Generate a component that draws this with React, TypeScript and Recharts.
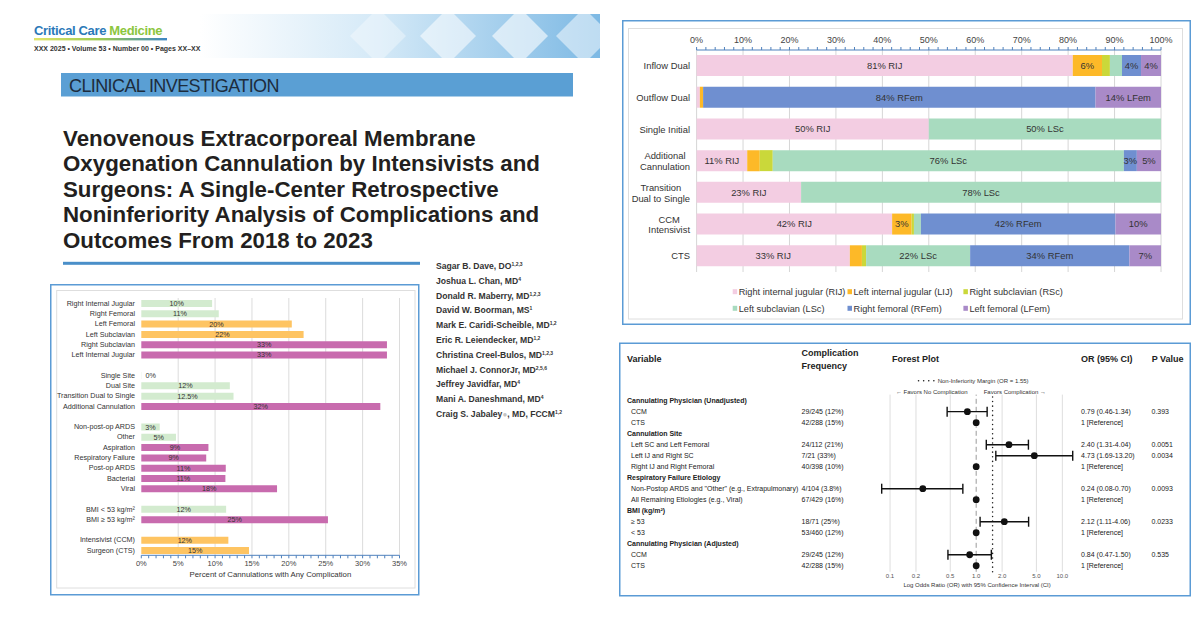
import React from "react";
import {
  BarChart,
  Bar,
  XAxis,
  YAxis,
  CartesianGrid,
  Cell,
  LabelList,
  ScatterChart,
  Scatter,
  ErrorBar,
  ReferenceLine,
} from "recharts";

const FONT = '"Liberation Sans", Arial, Helvetica, sans-serif';
const BORDER = "#5b9bd5";

// header text
const titleLines = [
  "Venovenous Extracorporeal Membrane",
  "Oxygenation Cannulation by Intensivists and",
  "Surgeons: A Single-Center Retrospective",
  "Noninferiority Analysis of Complications and",
  "Outcomes From 2018 to 2023",
];
const authorNames = [
  "Sagar B. Dave, DO",
  "Joshua L. Chan, MD",
  "Donald R. Maberry, MD",
  "David W. Boorman, MS",
  "Mark E. Caridi-Scheible, MD",
  "Eric R. Leiendecker, MD",
  "Christina Creel-Bulos, MD",
  "Michael J. ConnorJr,  MD",
  "Jeffrey Javidfar, MD",
  "Mani A. Daneshmand, MD",
  "Craig S. Jabaley",
];
const authorSup = ["1,2,3", "4", "1,2,3", "1", "1,2", "1,2", "1,2,3", "2,5,6", "4", "4", "1,2"];

// left panel: percent of cannulations with any complication
const riskLabels = [
  "Right Internal Jugular", "Right Femoral", "Left Femoral", "Left Subclavian", "Right Subclavian", "Left Internal Jugular",
  "",
  "Single Site", "Dual Site", "Transition Dual to Single", "Additional Cannulation",
  "",
  "Non-post-op ARDS", "Other", "Aspiration", "Respiratory Failure", "Post-op ARDS", "Bacterial", "Viral",
  "",
  "BMI < 53 kg/m²", "BMI ≥ 53 kg/m²",
  "",
  "Intensivist (CCM)", "Surgeon (CTS)",
];
const riskValues = [
  9.6, 10.5, 20.4, 22.0, 33.3, 33.3,
  null,
  0, 12.0, 12.5, 32.4,
  null,
  2.5, 4.7, 9.1, 8.8, 11.45, 11.4, 18.4,
  null,
  11.5, 25.3,
  null,
  11.8, 14.6,
];
const riskText = [
  "10%", "11%", "20%", "22%", "33%", "33%",
  "",
  "0%", "12%", "12.5%", "32%",
  "",
  "3%", "5%", "9%", "9%", "11%", "11%", "18%",
  "",
  "12%", "25%",
  "",
  "12%", "15%",
];
const riskTier = [0, 0, 1, 1, 2, 2, -1, 0, 0, 0, 2, -1, 0, 0, 2, 2, 2, 2, 2, -1, 0, 2, -1, 1, 1];
const tierColors = ["#d3ebcf", "#fec462", "#c86bae"];
const riskTicks = Array.from({ length: 36 }, (_, i) => i);
const riskGrid = [5, 10, 15, 20, 25, 30, 35];

// top right: cannulation site distribution
const siteRows = [
  "Inflow Dual",
  "Outflow Dual",
  "Single Initial",
  "Additional\nCannulation",
  "Transition\nDual to Single",
  "CCM\nIntensivist",
  "CTS",
];
const rijPct = [81.0, 0.7, 50, 10.9, 22.5, 42.1, 33.0];
const lijPct = [6.3, 0.7, 0, 2.7, 0, 4.2, 2.6];
const rscPct = [1.7, 0, 0, 2.8, 0, 0.5, 0.9];
const lscPct = [2.6, 0, 50, 75.6, 77.5, 1.5, 22.4];
const rfemPct = [4.1, 84.5, 0, 2.8, 0, 41.9, 34.3];
const lfemPct = [4.3, 14.1, 0, 5.2, 0, 9.8, 6.8];
const rijText = ["81% RIJ", "", "50% RIJ", "11% RIJ", "23% RIJ", "42% RIJ", "33% RIJ"];
const lijText = ["6%", "", "", "", "", "3%", ""];
const rscText = ["", "", "", "", "", "", ""];
const lscText = ["", "", "50% LSc", "76% LSc", "78% LSc", "", "22% LSc"];
const rfemText = ["4%", "84% RFem", "", "3%", "", "42% RFem", "34% RFem"];
const lfemText = ["4%", "14% LFem", "", "5%", "", "10%", "7%"];
const siteKeys = ["rij", "lij", "rsc", "lsc", "rfem", "lfem"];
const siteNames = [
  "Right internal jugular (RIJ)",
  "Left internal jugular (LIJ)",
  "Right subclavian (RSc)",
  "Left subclavian (LSc)",
  "Right femoral (RFem)",
  "Left femoral (LFem)",
];
const siteColors = ["#f3cde2", "#fdb928", "#cad83a", "#a8dbbf", "#6f8fd0", "#a98ac8"];
const siteTexts = [rijText, lijText, rscText, lscText, rfemText, lfemText];
const siteTicks = Array.from({ length: 51 }, (_, i) => i * 2);
const siteGrid = [0, 10, 20, 30, 40, 50, 60, 70, 80, 90, 100];

// bottom right: forest plot
const forestLabels = [
  "Cannulating Physician (Unadjusted)", "CCM", "CTS",
  "Cannulation Site", "Left SC and Left Femoral", "Left IJ and Right SC", "Right IJ and Right Femoral",
  "Respiratory Failure Etiology", 'Non-Postop ARDS and "Other" (e.g., Extrapulmonary)', "All Remaining Etiologies (e.g., Viral)",
  "BMI (kg/m²)", "≥ 53", "< 53",
  "Cannulating Physician (Adjusted)", "CCM", "CTS",
];
const forestIsGroup = [true, false, false, true, false, false, false, true, false, false, true, false, false, true, false, false];
const forestFreq = [
  "", "29/245 (12%)", "42/288 (15%)",
  "", "24/112 (21%)", "7/21 (33%)", "40/398 (10%)",
  "", "4/104 (3.8%)", "67/429 (16%)",
  "", "18/71 (25%)", "53/460 (12%)",
  "", "29/245 (12%)", "42/288 (15%)",
];
const forestOr = [null, 0.79, 1, null, 2.4, 4.73, 1, null, 0.24, 1, null, 2.12, 1, null, 0.84, 1];
const forestLo = [null, 0.46, null, null, 1.31, 1.69, null, null, 0.08, null, null, 1.11, null, null, 0.47, null];
const forestHi = [null, 1.34, null, null, 4.04, 13.2, null, null, 0.7, null, null, 4.06, null, null, 1.5, null];
const forestOrText = [
  "", "0.79 (0.46-1.34)", "1 [Reference]",
  "", "2.40 (1.31-4.04)", "4.73 (1.69-13.20)", "1 [Reference]",
  "", "0.24 (0.08-0.70)", "1 [Reference]",
  "", "2.12 (1.11-4.06)", "1 [Reference]",
  "", "0.84 (0.47-1.50)", "1 [Reference]",
];
const forestP = ["", "0.393", "", "", "0.0051", "0.0034", "", "", "0.0093", "", "", "0.0233", "", "", "0.535", ""];
const forestTicks = [0.1, 0.2, 0.5, 1, 2, 5, 10];
const forestGrid = [0.1, 0.2, 0.5, 2, 5, 10];
const NI_MARGIN = 1.55;

let measureCtx: CanvasRenderingContext2D | null = null;
const textWidth = (s: string, size: number) => {
  if (!measureCtx) measureCtx = document.createElement("canvas").getContext("2d");
  if (!measureCtx) return s.length * size * 0.5;
  measureCtx.font = `${size}px ${FONT}`;
  return measureCtx.measureText(s).width;
};

const riskData = riskLabels.map((label, i) => ({ label, value: riskValues[i], text: riskText[i] }));

const siteData = siteRows.map((name, i) => {
  const row: Record<string, any> = { name };
  const pcts = [rijPct, lijPct, rscPct, lscPct, rfemPct, lfemPct];
  siteKeys.forEach((k, s) => {
    row[k] = pcts[s][i];
    row[k + "Text"] = siteTexts[s][i];
  });
  return row;
});

const forestEst = forestOr
  .map((or, i) => ({ row: i, or, lo: forestLo[i], hi: forestHi[i] }))
  .filter((d) => d.or !== null && d.lo !== null)
  .map((d) => ({ row: d.row, or: d.or as number, err: [(d.or as number) - (d.lo as number), (d.hi as number) - (d.or as number)] }));
const forestRef = forestOr
  .map((or, i) => ({ row: i, or, lo: forestLo[i] }))
  .filter((d) => d.or !== null && d.lo === null);
const forestRowIdx = forestLabels.map((_, i) => i);

const RiskTick = ({ x, y, payload }: any) => {
  if (!payload.value) return null;
  return (
    <text x={x} y={y} dy="0.35em" textAnchor="end" fontSize={7.2} fill="#333">
      {payload.value}
    </text>
  );
};

const riskLabel = (props: any) => {
  const { x, y, width, height, value } = props;
  if (!value) return null;
  const cx = width < 1 ? x + 9.5 : x + width / 2;
  return (
    <text x={cx} y={y + height / 2} dy="0.35em" textAnchor="middle" fontSize={7.2} fill="#333">
      {value}
    </text>
  );
};

const SiteTick = ({ x, y, payload }: any) => {
  const lines = String(payload.value).split("\n");
  const fs = 9.4;
  if (lines.length === 1) {
    return (
      <text x={x} y={y} dy="0.35em" textAnchor="end" fontSize={fs} fill="#333">
        {lines[0]}
      </text>
    );
  }
  const w = Math.max(...lines.map((l) => textWidth(l, fs)));
  const cx = x - w / 2;
  return (
    <text x={cx} y={y} textAnchor="middle" fontSize={fs} fill="#333">
      {lines.map((l, k) => (
        <tspan key={k} x={cx} dy={k === 0 ? "-0.2em" : "1.14em"}>
          {l}
        </tspan>
      ))}
    </text>
  );
};

const siteLabel = (props: any) => {
  const { x, y, width, height, value } = props;
  if (!value) return null;
  return (
    <text x={x + width / 2} y={y + height / 2} dy="0.35em" textAnchor="middle" fontSize={9.4} fill="#333">
      {value}
    </text>
  );
};

// forest table columns are drawn from the row ticks
const ForestTick = ({ y, payload }: any) => {
  const i = payload.value;
  const group = forestIsGroup[i];
  return (
    <g fontSize={7} fill="#222">
      <text x={group ? 8 : 12} y={y} dy="0.35em" fontWeight={group ? 700 : 400} fill="#222">
        {forestLabels[i]}
      </text>
      <text x={182.6} y={y} dy="0.35em" fill="#222">{forestFreq[i]}</text>
      <text x={462} y={y} dy="0.35em" fill="#222">{forestOrText[i]}</text>
      <text x={532.5} y={y} dy="0.35em" fill="#222">{forestP[i]}</text>
    </g>
  );
};

const Dot = (p: any) => <circle cx={p.cx} cy={p.cy} r={3.4} fill="#111" />;

function Backdrop() {
  return (
    <svg width={1200} height={622} style={{ position: "absolute", left: 0, top: 0 }}>
      <defs>
        <linearGradient id="band" x1="0" x2="1" y1="0" y2="0">
          <stop offset="0" stopColor="#ffffff" />
          <stop offset="0.45" stopColor="#d4e9f7" />
          <stop offset="1" stopColor="#7db9e4" />
        </linearGradient>
        <linearGradient id="rule" x1="0" x2="1" y1="0" y2="0">
          <stop offset="0" stopColor="#e2e56a" />
          <stop offset="0.5" stopColor="#9cc94e" />
          <stop offset="1" stopColor="#3c86c6" />
        </linearGradient>
        <clipPath id="bandClip">
          <rect x={200} y={14} width={400} height={44} />
        </clipPath>
      </defs>
      <rect x={200} y={14} width={400} height={44} fill="url(#band)" />
      <g clipPath="url(#bandClip)" fill="#ffffff">
        <polygon points="420,36 448,8 476,36 448,64" opacity={0.55} />
        <polygon points="492,36 520,8 548,36 520,64" opacity={0.6} />
        <polygon points="556,36 584,8 612,36 584,64" opacity={0.5} />
        <polygon points="350,36 378,8 406,36 378,64" opacity={0.35} />
      </g>

      <text x={34} y={35} fontSize={13} fontWeight={700} letterSpacing={-0.35}>
        <tspan fill="#2b79b8">Critical Care </tspan>
        <tspan fill="#8cc63e">Medicine</tspan>
      </text>
      <rect x={34} y={38} width={133} height={2.4} fill="url(#rule)" />
      <text x={34} y={50.8} fontSize={7} fontWeight={700} fill="#333">
        XXX 2025 • Volume 53 • Number 00 • Pages XX–XX
      </text>

      <rect x={61} y={73} width={512} height={23.5} fill="#5a9fd4" />
      <text x={69} y={91.5} fontSize={18} letterSpacing={-0.6} fill="#1d2c3c">
        CLINICAL INVESTIGATION
      </text>

      {titleLines.map((t, i) => (
        <text key={i} x={63} y={145.5 + i * 25.5} fontSize={22.3} fontWeight={700} fill="#231f20">
          {t}
        </text>
      ))}
      <rect x={63} y={261.8} width={357} height={3} fill="#4a8fc9" />

      {authorNames.map((n, i) => (
        <text key={n} x={436} y={269 + i * 14.8} fontSize={8.6} fontWeight={700} fill="#333">
          {n}
          {i === authorNames.length - 1 ? (
            <>
              <tspan fill="#c4c4c4" fontSize={8}>●</tspan>
              <tspan>, MD, FCCM</tspan>
            </>
          ) : null}
          <tspan fontSize={5} baselineShift="super">{authorSup[i]}</tspan>
        </text>
      ))}

      {/* panel frames */}
      <rect x={50.75} y={284.75} width={368} height={310} fill="none" stroke={BORDER} strokeWidth={1.5} />
      <rect x={56.7} y={290.5} width={358.3} height={297.5} fill="none" stroke="#dedede" strokeWidth={1} />
      <rect x={622.75} y={20.75} width={567.5} height={303.5} fill="none" stroke={BORDER} strokeWidth={1.5} />
      <rect x={628.5} y={28.5} width={554} height={290.5} fill="none" stroke="#dedede" strokeWidth={1} />
      <rect x={619.75} y={343.25} width={570.5} height={252.5} fill="none" stroke={BORDER} strokeWidth={1.5} />

      {/* site legend */}
      {siteNames.map((n, i) => {
        const lx = [736.7, 851.5, 967.4][i % 3];
        const ly = [291.7, 308.3][Math.floor(i / 3)];
        return (
          <g key={n}>
            <rect x={lx - 4} y={ly - 2.5} width={4.5} height={5} fill={siteColors[i]} />
            <text x={lx + 2} y={ly} dy="0.35em" fontSize={9.2} fill="#333">
              {n}
            </text>
          </g>
        );
      })}

      {/* forest headers */}
      <g fontSize={9} fontWeight={700} fill="#222">
        <text x={627} y={359} dy="0.35em">Variable</text>
        <text x={801.6} y={352.7} dy="0.35em">Complication</text>
        <text x={801.6} y={365.7} dy="0.35em">Frequency</text>
        <text x={892} y={359} dy="0.35em">Forest Plot</text>
        <text x={1081} y={359} dy="0.35em">OR (95% CI)</text>
        <text x={1151.7} y={359} dy="0.35em">P Value</text>
      </g>
      <line x1={918.5} x2={934} y1={380.7} y2={380.7} stroke="#222" strokeWidth={1.5} strokeDasharray="0.1 5" strokeLinecap="round" />
      <text x={937.7} y={380.7} dy="0.35em" fontSize={6} fill="#333">
        Non-Inferiority Margin (OR = {NI_MARGIN})
      </text>
      <text x={967.6} y={392} dy="0.35em" fontSize={6} fill="#333" textAnchor="end">
        ← Favors No Complication
      </text>
      <text x={983.7} y={392} dy="0.35em" fontSize={6} fill="#333">
        Favors Complication →
      </text>
    </svg>
  );
}

export default function App() {
  return (
    <div
      style={{
        position: "absolute",
        left: 0,
        top: 0,
        width: 1200,
        height: 622,
        background: "#fff",
        overflow: "hidden",
        fontFamily: FONT,
      }}
    >
      <Backdrop />

      <div style={{ position: "absolute", left: 50, top: 284 }}>
        <BarChart
          width={370}
          height={311}
          data={riskData}
          layout="vertical"
          barSize={7}
          margin={{ top: 14, right: 20.5, bottom: 15.7, left: 0 }}
        >
          <CartesianGrid horizontal={false} verticalValues={riskGrid} stroke="#dcdcdc" />
          <XAxis
            type="number"
            domain={[0, 35]}
            ticks={riskTicks}
            interval={0}
            height={24}
            tickSize={3}
            tickMargin={2.7}
            tickFormatter={(v: number) => (v % 5 === 0 ? `${v}%` : "")}
            tick={{ fontSize: 7.5, fill: "#444" }}
            axisLine={{ stroke: "#4f81bd" }}
            tickLine={{ stroke: "#4f81bd" }}
            label={{ value: "Percent of Cannulations with Any Complication", position: "insideBottom", offset: 2.2, fontSize: 7.8, fill: "#333" }}
          />
          <YAxis
            type="category"
            dataKey="label"
            width={91.3}
            interval={0}
            tickSize={0}
            tickMargin={6.3}
            axisLine={false}
            tickLine={false}
            tick={<RiskTick />}
          />
          <Bar
            dataKey="value"
            isAnimationActive={false}
            minPointSize={(v: any) => (v === 0 ? 0.2 : 0)}
          >
            {riskData.map((_, i) => (
              <Cell key={i} fill={tierColors[Math.max(riskTier[i], 0)]} />
            ))}
            <LabelList dataKey="text" content={riskLabel} />
          </Bar>
        </BarChart>
      </div>

      <div style={{ position: "absolute", left: 622, top: 20 }}>
        <BarChart
          width={569}
          height={305}
          data={siteData}
          layout="vertical"
          barSize={21}
          margin={{ top: 0, right: 30, bottom: 53, left: 0 }}
        >
          <CartesianGrid horizontal={false} verticalValues={siteGrid} stroke="#d6d6d6" />
          <XAxis
            type="number"
            orientation="top"
            domain={[0, 100]}
            ticks={siteTicks}
            interval={0}
            height={30}
            tickSize={3}
            tickMargin={3.8}
            tickFormatter={(v: number) => (v % 10 === 0 ? `${v}%` : "")}
            tick={{ fontSize: 9, fill: "#444" }}
            axisLine={{ stroke: "#4f81bd" }}
            tickLine={{ stroke: "#4f81bd" }}
          />
          <YAxis
            type="category"
            dataKey="name"
            width={74.6}
            interval={0}
            tickSize={0}
            tickMargin={6.6}
            axisLine={false}
            tickLine={false}
            tick={<SiteTick />}
          />
          {siteKeys.map((k, s) => (
            <Bar key={k} dataKey={k} stackId="site" fill={siteColors[s]} isAnimationActive={false}>
              <LabelList dataKey={k + "Text"} content={siteLabel} />
            </Bar>
          ))}
        </BarChart>
      </div>

      <div style={{ position: "absolute", left: 619, top: 343 }}>
        <ScatterChart width={572} height={253} margin={{ top: 51.6, right: 113.5, bottom: 4.2, left: 0 }}>
          <CartesianGrid horizontal={false} verticalValues={forestGrid} stroke="#dedede" />
          <XAxis
            type="number"
            dataKey="or"
            scale="log"
            domain={[0.07, 15]}
            allowDataOverflow
            ticks={forestTicks}
            interval={0}
            height={20}
            tickSize={0}
            tickMargin={2.1}
            axisLine={false}
            tickLine={false}
            tickFormatter={(v: number) => v.toFixed(1)}
            tick={{ fontSize: 6, fill: "#555" }}
            label={{ value: "Log Odds Ratio (OR) with 95% Confidence Interval (CI)", position: "insideBottom", offset: 5.1, fontSize: 6, fill: "#333" }}
          />
          <YAxis
            type="number"
            dataKey="row"
            reversed
            domain={[-0.55, 15.55]}
            allowDataOverflow
            ticks={forestRowIdx}
            interval={0}
            width={257.7}
            tickSize={0}
            axisLine={false}
            tickLine={false}
            tick={<ForestTick />}
          />
          <ReferenceLine x={1} stroke="#9a9a9a" strokeDasharray="5 3" />
          <ReferenceLine x={NI_MARGIN} stroke="#222" strokeWidth={1.5} strokeDasharray="0.1 4.5" strokeLinecap="round" />
          <Scatter data={forestEst} shape={<Dot />} isAnimationActive={false}>
            <ErrorBar dataKey="err" direction="x" width={5} stroke="#111" strokeWidth={1.4} isAnimationActive={false} />
          </Scatter>
          <Scatter data={forestRef} shape={<Dot />} isAnimationActive={false} />
        </ScatterChart>
      </div>
    </div>
  );
}
